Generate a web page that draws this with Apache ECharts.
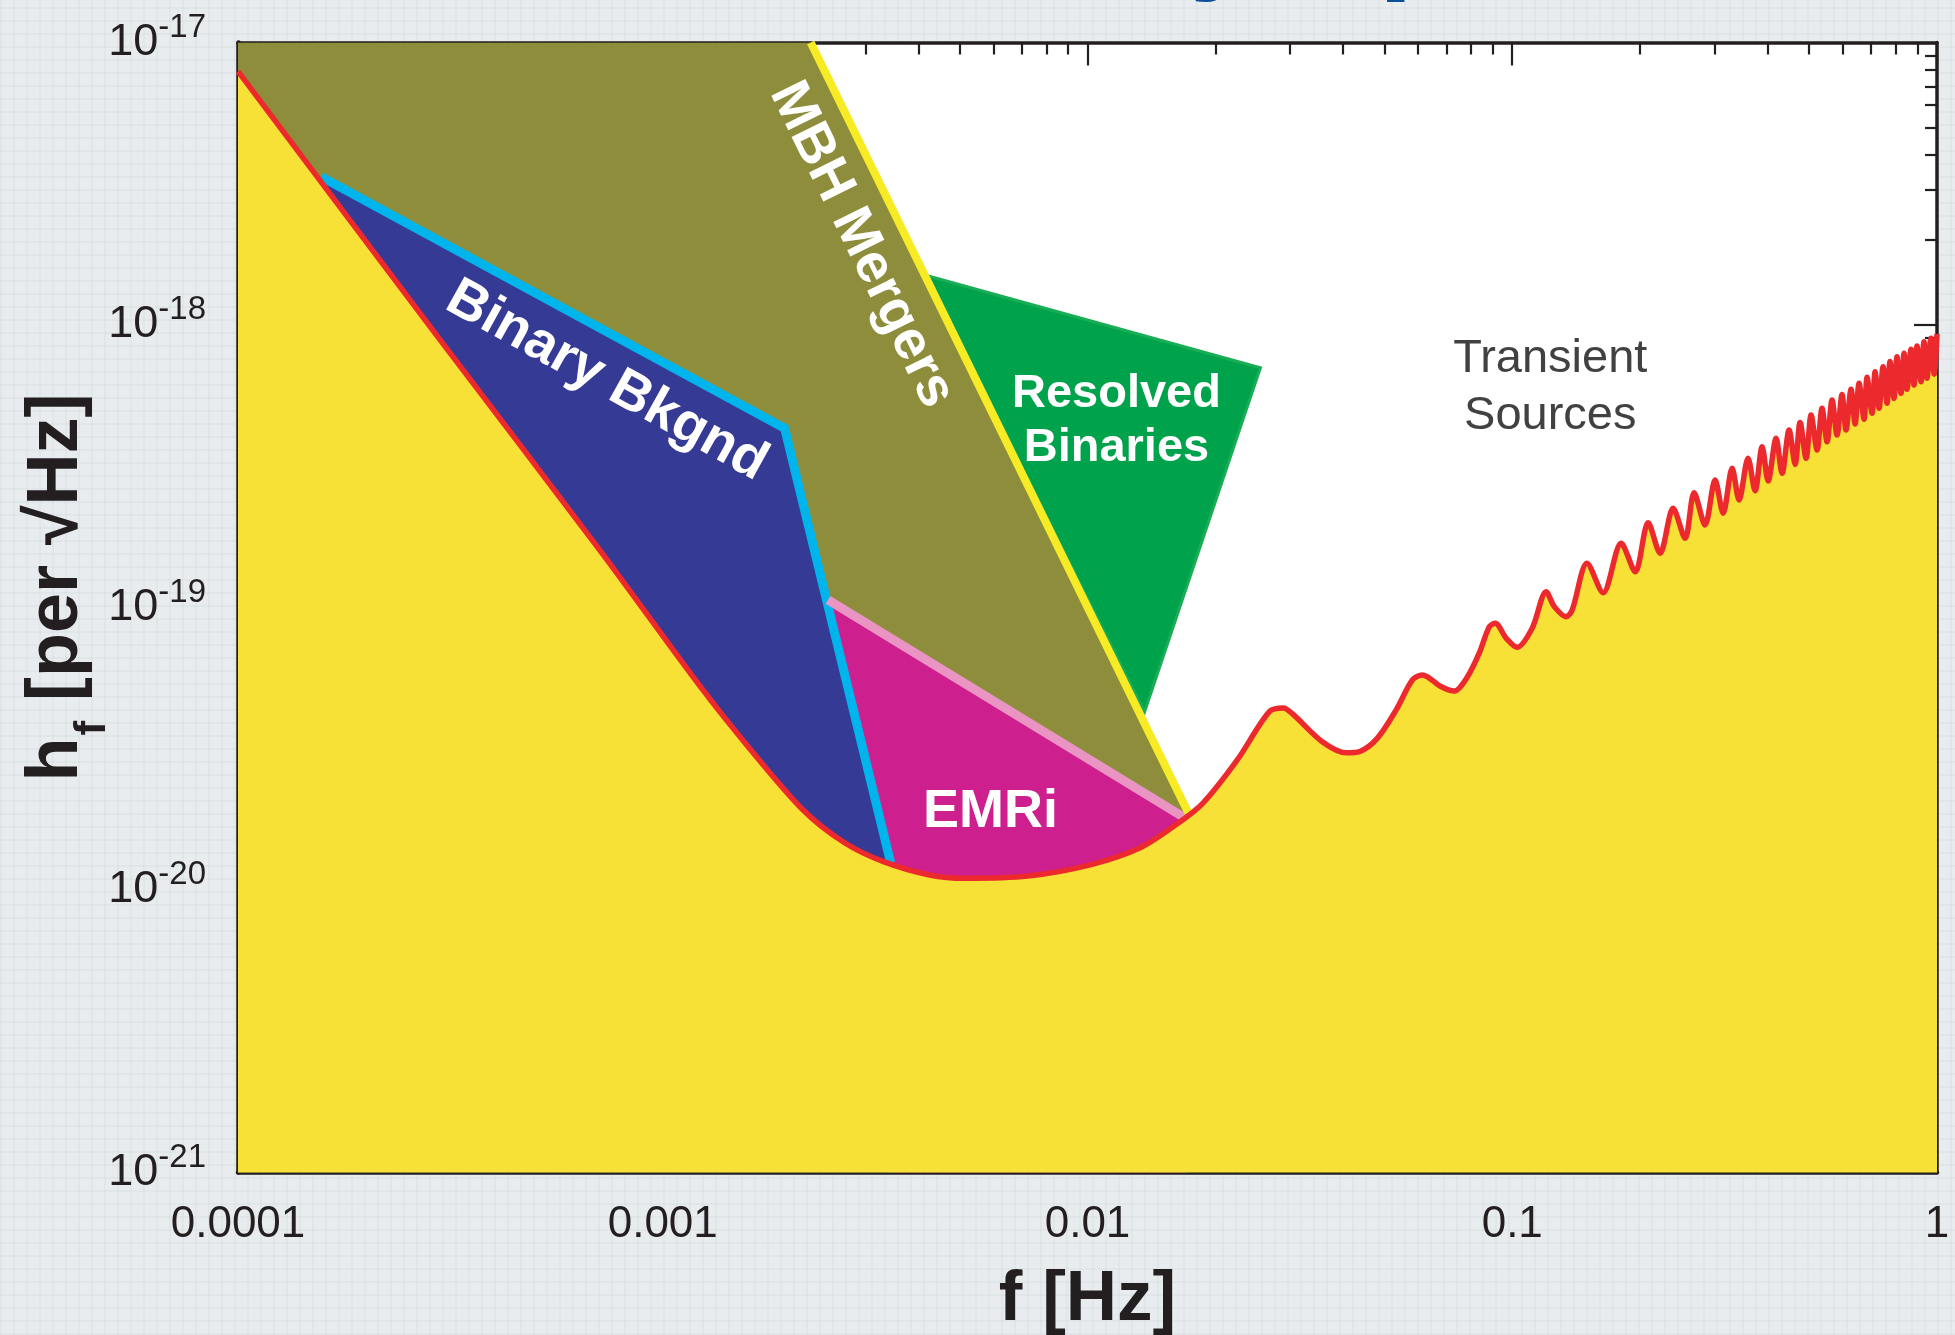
<!DOCTYPE html>
<html>
<head>
<meta charset="utf-8">
<script src="https://cdn.jsdelivr.net/npm/echarts@6/dist/echarts.min.js"></script>
<style>
  html, body { margin: 0; padding: 0; width: 1955px; height: 1335px; overflow: hidden; }
  body {
    background-color: #e8ecee;
    background-image:
      repeating-linear-gradient(90deg, rgba(188, 200, 206, 0.16) 0 2px, transparent 2px 13px),
      repeating-linear-gradient(0deg, rgba(188, 200, 206, 0.16) 0 2px, transparent 2px 13px);
  }
  #chart { width: 1955px; height: 1335px; }
</style>
</head>
<body>
<div id="chart"></div>
<script>
// ---- instrument sensitivity curve: frequency [Hz] and strain [per √Hz] ----
const sensFreq = [
  1.0e-4, 3.0e-4, 7.1e-4, 1.22e-3, 1.58e-3, 2.14e-3, 2.68e-3, 3.31e-3, 4.25e-3, 5.14e-3,
  7.23e-3, 1.02e-2, 1.33e-2, 1.64e-2, 1.87e-2, 2.25e-2, 2.68e-2, 2.89e-2, 3.04e-2, 3.57e-2,
  4.07e-2, 4.37e-2, 4.81e-2, 5.33e-2, 5.82e-2, 6.14e-2, 6.81e-2, 7.30e-2, 7.83e-2, 8.36e-2,
  8.83e-2, 9.12e-2, 9.68e-2, 0.1027, 0.1114, 0.1202, 0.1256, 0.134, 0.1384, 0.150,
  0.1637, 0.1805, 0.1948, 0.2089, 0.2229, 0.2392, 0.2553, 0.268, 0.2844, 0.3003,
  0.3137, 0.3294, 0.342, 0.359, 0.373, 0.3876, 0.4003, 0.418, 0.4318, 0.4485,
  0.4634, 0.476, 0.4918, 0.5053, 0.522, 0.5362, 0.551, 0.5662, 0.5816, 0.5976,
  0.6106, 0.6276, 0.6414, 0.6555, 0.6735, 0.6844, 0.7033, 0.7148, 0.7305, 0.7465,
  0.7629, 0.775, 0.7922, 0.805, 0.823, 0.8365, 0.850, 0.8686, 0.8829, 0.8973,
  0.917, 0.9319, 0.9473, 0.968, 0.985, 1.0
];
const sensStrain = [
  7.9e-18, 8.8e-19, 1.6e-19, 5.3e-20, 3.25e-20, 1.92e-20, 1.47e-20, 1.26e-20, 1.13e-20, 1.10e-20,
  1.12e-20, 1.23e-20, 1.41e-20, 1.73e-20, 2.03e-20, 2.88e-20, 4.28e-20, 4.41e-20, 4.20e-20, 3.35e-20,
  3.06e-20, 3.09e-20, 3.44e-20, 4.34e-20, 5.54e-20, 5.77e-20, 5.24e-20, 5.06e-20, 5.66e-20, 6.89e-20,
  8.55e-20, 8.79e-20, 7.78e-20, 7.23e-20, 8.44e-20, 1.138e-19, 1.007e-19, 9.28e-20, 9.80e-20, 1.434e-19,
  1.128e-19, 1.688e-19, 1.338e-19, 1.996e-19, 1.556e-19, 2.245e-19, 1.758e-19, 2.549e-19, 1.959e-19, 2.826e-19,
  2.155e-19, 3.11e-19, 2.40e-19, 3.374e-19, 2.59e-19, 3.709e-19, 2.804e-19, 3.97e-19, 2.985e-19, 4.25e-19,
  3.21e-19, 4.52e-19, 3.374e-19, 4.80e-19, 3.61e-19, 5.07e-19, 3.86e-19, 5.43e-19, 4.08e-19, 5.68e-19,
  4.25e-19, 5.92e-19, 4.46e-19, 6.22e-19, 4.64e-19, 6.53e-19, 4.87e-19, 6.83e-19, 5.07e-19, 7.12e-19,
  5.28e-19, 7.42e-19, 5.50e-19, 7.72e-19, 5.73e-19, 7.94e-19, 5.92e-19, 8.20e-19, 6.13e-19, 8.43e-19,
  6.30e-19, 8.73e-19, 6.48e-19, 8.97e-19, 6.7e-19, 9.3e-19
];

// ---- source regions, vertices as [f, h] (edges below the curve are hidden by the fill) ----
const mbhRegion       = [[1e-4, 1e-17], [2.23e-3, 1e-17], [1.728e-2, 1.874e-20], [1.728e-2, 1e-21], [1e-4, 1e-21]];
const binaryBkgRegion = [[1.57e-4, 3.35e-18], [1.936e-3, 4.31e-19], [3.44e-3, 1.25e-20], [3.44e-3, 1e-21], [1.57e-4, 1e-21]];
const emriRegion      = [[2.45e-3, 1.064e-19], [1.683e-2, 1.81e-20], [1.683e-2, 1e-21], [3.44e-3, 1e-21], [3.44e-3, 1.25e-20]];
const resolvedRegion  = [[4.135e-3, 1.503e-18], [2.553e-2, 7.05e-19], [1.362e-2, 4.265e-20]];

// ---- region boundary lines ----
const binaryBkgEdge = [[1.57e-4, 3.35e-18], [1.936e-3, 4.31e-19], [3.44e-3, 1.25e-20]];
const emriEdge      = [[2.45e-3, 1.064e-19], [1.683e-2, 1.81e-20]];
const mbhEdge       = [[2.23e-3, 1e-17], [1.728e-2, 1.874e-20]];

// ---- region names and their anchor points [f, h] ----
const regionNames   = ['Binary Bkgnd', 'MBH Mergers', 'EMRi', 'Resolved', 'Binaries', 'Transient', 'Sources'];
const regionAnchors = [[7.38e-4, 6.33e-19], [2.938e-3, 1.92e-18], [5.91e-3, 1.888e-20], [1.17e-2, 5.7e-19],
                       [1.17e-2, 3.68e-19], [0.1229, 7.55e-19], [0.1229, 4.75e-19]];

// ---- axis ticks ----
const xTickValues = [1e-4, 1e-3, 1e-2, 1e-1, 1];
const xTickLabels = ['0.0001', '0.001', '0.01', '0.1', '1'];
const yTickValues = [1e-21, 1e-20, 1e-19, 1e-18, 1e-17];
const yTickExponents = ['-21', '-20', '-19', '-18', '-17'];
const minorSteps = [2, 3, 4, 5, 6, 7, 8, 9];

// ---------------------------------------------------------------------------
const INK = '#231f20';
const FONT = '"Liberation Sans", Arial, Helvetica, sans-serif';

function minorTicks(decades) {
  const out = [];
  decades.slice(0, -1).forEach(d => minorSteps.forEach(m => out.push(d * m)));
  return out;
}
const xMinor = minorTicks(xTickValues);
const yMinor = minorTicks(yTickValues);

function matchIndex(list, v) {
  return list.findIndex(t => Math.abs(Math.log10(t) - Math.log10(v)) < 1e-6);
}

function makeAxis(dim, position, values, len, withLine, lineWidth, extra) {
  const isX = dim === 'x';
  return Object.assign({
    type: 'log',
    logBase: 10,
    min: isX ? 1e-4 : 1e-21,
    max: isX ? 1 : 1e-17,
    position: position,
    gridIndex: 0,
    axisLine: { show: withLine, onZero: false, lineStyle: { color: INK, width: lineWidth } },
    axisTick: { show: true, inside: true, length: len, customValues: values, lineStyle: { color: INK, width: 2.2 } },
    axisLabel: { show: false },
    splitLine: { show: false },
    minorTick: { show: false },
    minorSplitLine: { show: false }
  }, extra || {});
}

const regionStyles = [
  { pts: mbhRegion,       fill: '#8e8d3b' },
  { pts: binaryBkgRegion, fill: '#353a95' },
  { pts: emriRegion,      fill: '#cd1f8e' },
  { pts: resolvedRegion,  fill: '#00a24c', stroke: '#19ad55' }
];

const nameStyles = [
  { color: '#ffffff', font: 'bold 55px ' + FONT, angle: -29 },
  { color: '#ffffff', font: 'bold 55px ' + FONT, angle: -63.8 },
  { color: '#ffffff', font: 'bold 54px ' + FONT, angle: 0 },
  { color: '#ffffff', font: 'bold 47px ' + FONT, angle: 0 },
  { color: '#ffffff', font: 'bold 47px ' + FONT, angle: 0 },
  { color: '#414042', font: '47px ' + FONT, angle: 0 },
  { color: '#414042', font: '47px ' + FONT, angle: 0 }
];

function edgeSeries(points, color, width) {
  return {
    type: 'line', xAxisIndex: 0, yAxisIndex: 0, data: points,
    showSymbol: false, symbol: 'none', clip: true, z: 3,
    lineStyle: { color: color, width: width, cap: 'butt', join: 'miter' },
    silent: true
  };
}

const chart = echarts.init(document.getElementById('chart'), null, { renderer: 'canvas' });

const option = {
  animation: false,
  backgroundColor: 'transparent',
  graphic: [{
    type: 'text', x: 825, y: 4, z: 10,
    style: { text: 'Gravity Spectrum', font: 'bold 126px ' + FONT, fill: '#0b4f97', align: 'left', verticalAlign: 'bottom' }
  }],
  grid: {
    left: 238, right: 18, top: 42.5, bottom: 162.5,
    outerBoundsMode: 'none', containLabel: false,
    show: true, backgroundColor: '#ffffff', borderWidth: 0
  },
  xAxis: [
    makeAxis('x', 'bottom', xTickValues, 23, true, 4.5, {
      axisLabel: {
        show: true, customValues: xTickValues, margin: 30, color: INK,
        fontFamily: FONT, fontSize: 44,
        formatter: v => { const i = matchIndex(xTickValues, v); return i < 0 ? '' : xTickLabels[i]; }
      },
      name: 'f [Hz]', nameLocation: 'middle', nameGap: 92, nameMoveOverlap: false,
      nameTextStyle: { color: INK, fontFamily: FONT, fontSize: 71, fontWeight: 'bold' }
    }),
    makeAxis('x', 'bottom', xMinor, 12, false, 0),
    makeAxis('x', 'top', xTickValues, 23, true, 3.5),
    makeAxis('x', 'top', xMinor, 12, false, 0)
  ],
  yAxis: [
    makeAxis('y', 'left', yTickValues, 23, true, 4.5, {
      axisLabel: {
        show: true, customValues: yTickValues, margin: 32, color: INK, fontFamily: FONT,
        formatter: v => { const i = matchIndex(yTickValues, v); return i < 0 ? '' : '{b|10}{s|' + yTickExponents[i] + '}'; },
        rich: {
          b: { fontSize: 45, fontFamily: FONT, color: INK },
          s: { fontSize: 33, fontFamily: FONT, color: INK, padding: [0, 0, 30, 0] }
        }
      },
      name: '{m|h}{s|f}{m| [per √Hz]}', nameLocation: 'middle', nameRotate: 90, nameGap: 123,
      nameMoveOverlap: false,
      nameTextStyle: {
        color: INK,
        padding: [0, 0, 0, 40],
        rich: {
          m: { fontSize: 72, fontWeight: 'bold', fontFamily: FONT, color: INK },
          s: { fontSize: 44, fontWeight: 'bold', fontFamily: FONT, color: INK, padding: [72, 0, 0, 2] }
        }
      }
    }),
    makeAxis('y', 'left', yMinor, 12, false, 0),
    makeAxis('y', 'right', yTickValues, 23, true, 3.5),
    makeAxis('y', 'right', yMinor, 12, false, 0)
  ],
  series: [
    {
      type: 'custom', coordinateSystem: 'cartesian2d', xAxisIndex: 0, yAxisIndex: 0,
      clip: true, z: 1, silent: true,
      data: regionStyles.map(r => r.pts[0]),
      renderItem: (params, api) => {
        const r = regionStyles[params.dataIndex];
        return {
          type: 'polygon',
          shape: { points: r.pts.map(p => api.coord(p)) },
          style: { fill: r.fill, stroke: r.stroke || null, lineWidth: r.stroke ? 3 : 0 }
        };
      }
    },
    edgeSeries(binaryBkgEdge, '#00b4ec', 9),
    edgeSeries(emriEdge, '#ea94c4', 9),
    edgeSeries(mbhEdge, '#f6eb25', 8),
    {
      type: 'line', xAxisIndex: 0, yAxisIndex: 0,
      data: sensFreq.map((f, i) => [f, sensStrain[i]]),
      showSymbol: false, symbol: 'none', smooth: 0.3, clip: true, z: 5, silent: true,
      lineStyle: { color: '#ec2a2e', width: 5.5, join: 'round' },
      areaStyle: { color: '#f7e136', opacity: 1, origin: 1e-21 }
    },
    {
      type: 'custom', coordinateSystem: 'cartesian2d', xAxisIndex: 0, yAxisIndex: 0,
      z: 8, silent: true,
      data: regionAnchors,
      renderItem: (params, api) => {
        const st = nameStyles[params.dataIndex];
        const p = api.coord(regionAnchors[params.dataIndex]);
        return {
          type: 'text', x: p[0], y: p[1], rotation: st.angle * Math.PI / 180,
          style: { text: regionNames[params.dataIndex], fill: st.color, font: st.font, align: 'center', verticalAlign: 'middle' }
        };
      }
    }
  ]
};

chart.setOption(option);
</script>
</body>
</html>
